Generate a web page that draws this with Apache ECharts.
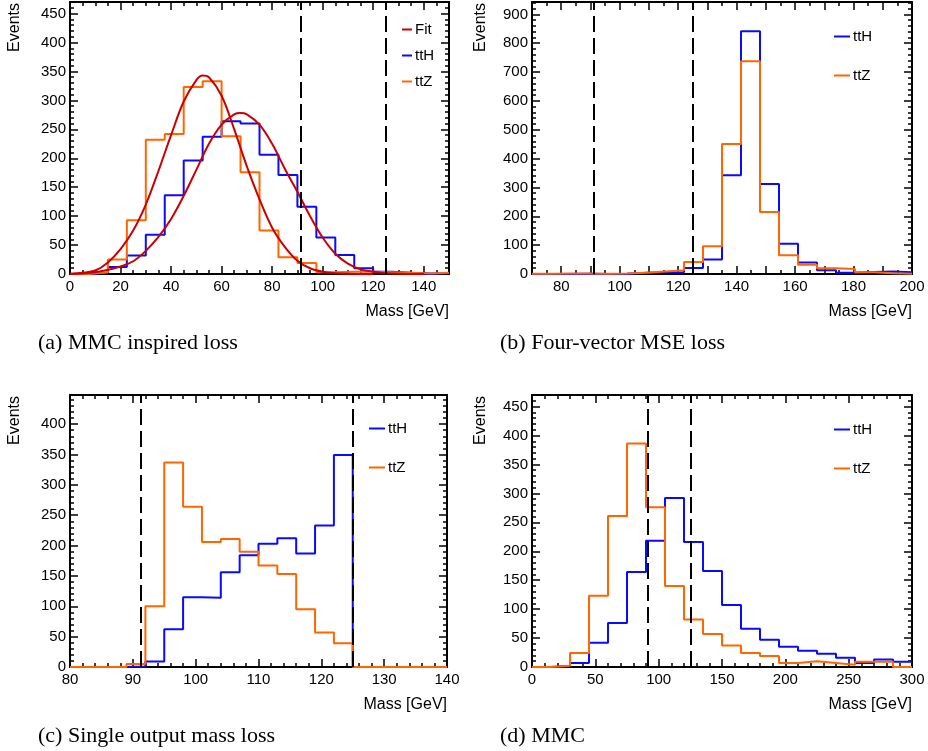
<!DOCTYPE html>
<html>
<head>
<meta charset="utf-8">
<title>Mass reconstruction</title>
<script src="https://cdn.jsdelivr.net/npm/echarts@6/dist/echarts.min.js"></script>
<style>
    html, body { margin: 0; padding: 0; background: #fff; }
    #main { width: 928px; height: 751px; }
</style>
</head>
<body>
<div id="main"></div>
<script>
// Z and H mass reference lines
var massZ = 91.2;
var massH = 125;

// (a) MMC inspired loss, 20 bins from 0 to 150
var rangeA = [0, 150];
var ttH_A = [0, 2, 12, 32, 68, 136, 196, 237, 264, 260, 206, 171, 116, 63, 33, 10, 4, 2, 1, 1];
var ttZ_A = [0, 3, 25, 93, 232, 242, 323, 333, 238, 176, 75, 29, 19, 3, 4, 4, 3, 2, 1, 2];
// fit curves
var fitZ_x = [0, 5, 10, 15, 20, 25, 30, 35, 40, 45, 50, 52.5, 55, 60, 65, 70, 75, 80, 85, 90, 95, 100, 105, 110, 120];
var fitZ_y = [0.5, 2, 6, 20, 43, 75, 120, 178, 240, 298, 335, 343, 340, 308, 250, 186, 129, 80, 47, 23, 10, 4, 1.5, 0.5, 0];
var fitH_x = [0, 10, 20, 25, 30, 35, 40, 45, 50, 55, 60, 65, 67.5, 70, 75, 80, 85, 90, 95, 100, 105, 110, 115, 120, 125, 130, 140];
var fitH_y = [0, 3, 13, 22, 40, 64, 95, 135, 180, 225, 258, 276, 278, 276, 258, 225, 182, 142, 100, 63, 35, 18, 8, 4, 1.5, 0.5, 0];

// (b) Four-vector MSE loss, 20 bins from 70 to 200
var rangeB = [70, 200];
var ttH_B = [0, 0, 1, 0, 1, 4, 5, 6, 21, 50, 342, 842, 312, 105, 40, 13, 4, 7, 9, 6];
var ttZ_B = [1, 2, 2, 1, 2, 4, 9, 13, 42, 96, 451, 738, 215, 65, 32, 20, 17, 6, 3, 1];

// (c) Single output mass loss, 20 bins from 80 to 140
var rangeC = [80, 140];
var ttH_C = [0, 0, 0, 1, 9, 62, 115, 114, 156, 184, 203, 212, 187, 233, 349, 0, 0, 0, 0, 0];
var ttZ_C = [0, 0, 0, 5, 100, 337, 264, 206, 211, 190, 167, 153, 95, 57, 39, 0, 0, 0, 0, 0];

// (d) MMC, 20 bins from 0 to 300
var rangeD = [0, 300];
var ttH_D = [0, 2, 7, 42, 76, 164, 218, 292, 216, 166, 107, 66, 47, 35, 28, 23, 16, 7, 13, 9];
var ttZ_D = [0, 2, 24, 123, 261, 386, 276, 140, 82, 57, 37, 24, 19, 7, 10, 7, 4, 9, 9, 0];

var captions = ['(a) MMC inspired loss', '(b) Four-vector MSE loss', '(c) Single output mass loss', '(d) MMC'];

var BLUE = '#0a0aff';
var ORANGE = '#ff6600';
var RED = '#cc0000';
var SANS = 'Liberation Sans, Arial, sans-serif';
var SERIF = 'Liberation Serif, Times New Roman, serif';

var grids = [
    {left: 70, top: 2, width: 379, height: 272},
    {left: 532, top: 2, width: 380, height: 272},
    {left: 70, top: 395, width: 377, height: 272},
    {left: 532, top: 395, width: 380, height: 272}
];

/**
 * 直方图的点：每个 bin 的左边界 + 最后一个右边界
 */
function histData(range, values) {
    var w = (range[1] - range[0]) / values.length;
    var pts = [];
    for (var i = 0; i < values.length; i++) {
        pts.push([range[0] + i * w, values[i]]);
    }
    pts.push([range[1], values[values.length - 1]]);
    return pts;
}

function zipXY(xs, ys) {
    var pts = [];
    for (var i = 0; i < xs.length; i++) {
        pts.push([xs[i], ys[i]]);
    }
    return pts;
}

var tickLine = {color: '#000', width: 1.5};

/**
 * 一个 frame 的四条轴 (ROOT 风格，刻度朝内)
 */
function frameAxes(g, x, y) {
    var xs = [];
    var ys = [];
    ['bottom', 'top'].forEach(function (pos) {
        xs.push({
            type: 'value', gridIndex: g, position: pos,
            min: x.min, max: x.max, interval: x.interval,
            axisLine: {show: true, onZero: false, lineStyle: {color: '#000', width: 2}},
            axisTick: {show: true, inside: true, length: 8, lineStyle: tickLine},
            minorTick: {show: true, splitNumber: x.minor, length: 4, lineStyle: tickLine},
            splitLine: {show: false},
            axisLabel: {
                show: pos === 'bottom', margin: 5, color: '#000', fontSize: 15, fontFamily: SANS,
                showMaxLabel: x.showMax,
                formatter: function (v) {
                    return (v - x.labelFrom) % x.labelStep === 0 ? String(v) : '';
                }
            }
        });
    });
    ['left', 'right'].forEach(function (pos) {
        ys.push({
            type: 'value', gridIndex: g, position: pos,
            min: y.min, max: y.max, interval: y.interval,
            axisLine: {show: true, onZero: false, lineStyle: {color: '#000', width: 2}},
            axisTick: {show: true, inside: true, length: 8, lineStyle: tickLine},
            minorTick: {show: true, splitNumber: y.minor, length: 4, lineStyle: tickLine},
            splitLine: {show: false},
            axisLabel: {
                show: pos === 'left', margin: 4, color: '#000', fontSize: 15, fontFamily: SANS,
                showMaxLabel: false
            }
        });
    });
    return {x: xs, y: ys};
}

var axesA = frameAxes(0, {min: 0, max: 150, interval: 20, minor: 4, labelFrom: 0, labelStep: 20, showMax: false},
    {min: 0, max: 470, interval: 50, minor: 5});
var axesB = frameAxes(1, {min: 70, max: 200, interval: 10, minor: 2, labelFrom: 80, labelStep: 20, showMax: true},
    {min: 0, max: 943, interval: 100, minor: 5});
var axesC = frameAxes(2, {min: 80, max: 140, interval: 10, minor: 5, labelFrom: 80, labelStep: 10, showMax: true},
    {min: 0, max: 448, interval: 50, minor: 5});
var axesD = frameAxes(3, {min: 0, max: 300, interval: 50, minor: 5, labelFrom: 0, labelStep: 50, showMax: true},
    {min: 0, max: 470, interval: 50, minor: 5});

var xAxes = [].concat(axesA.x, axesB.x, axesC.x, axesD.x);
var yAxes = [].concat(axesA.y, axesB.y, axesC.y, axesD.y);

var dashLines = {
    silent: true,
    symbol: ['none', 'none'],
    label: {show: false},
    lineStyle: {color: '#000', type: [16, 6], width: 2},
    data: [{xAxis: massZ}, {xAxis: massH}]
};

function histSeries(name, g, range, values, color, withLines) {
    var s = {
        name: name, type: 'line', step: 'end',
        xAxisIndex: g * 2, yAxisIndex: g * 2,
        data: histData(range, values),
        symbol: 'none',
        itemStyle: {color: color},
        lineStyle: {color: color, width: 2},
        animation: false
    };
    if (withLines) {
        s.markLine = dashLines;
    }
    return s;
}

function fitSeries(xs, ys) {
    return {
        name: 'Fit', type: 'line', smooth: 0.35,
        xAxisIndex: 0, yAxisIndex: 0,
        data: zipXY(xs, ys),
        symbol: 'none',
        itemStyle: {color: RED},
        lineStyle: {color: RED, width: 2},
        animation: false
    };
}

var series = [
    histSeries('ttH', 0, rangeA, ttH_A, BLUE, true),
    histSeries('ttZ', 0, rangeA, ttZ_A, ORANGE, false),
    fitSeries(fitZ_x, fitZ_y),
    fitSeries(fitH_x, fitH_y),
    histSeries('ttH', 1, rangeB, ttH_B, BLUE, true),
    histSeries('ttZ', 1, rangeB, ttZ_B, ORANGE, false),
    histSeries('ttH', 2, rangeC, ttH_C, BLUE, true),
    histSeries('ttZ', 2, rangeC, ttZ_C, ORANGE, false),
    histSeries('ttH', 3, rangeD, ttH_D, BLUE, true),
    histSeries('ttZ', 3, rangeD, ttZ_D, ORANGE, false)
];

function legendAt(left, top, names, gap, w) {
    return {
        left: left, top: top, orient: 'vertical',
        data: names, icon: 'rect', itemWidth: w, itemHeight: 2,
        itemGap: gap, selectedMode: false,
        textStyle: {color: '#000', fontSize: 15, fontFamily: SANS, padding: [0, 0, 0, -2]}
    };
}

var legends = [
    legendAt(397, 17, ['Fit', 'ttH', 'ttZ'], 11, 10),
    legendAt(829, 24, ['ttH', 'ttZ'], 24, 16),
    legendAt(364, 416, ['ttH', 'ttZ'], 24, 16),
    legendAt(829, 417, ['ttH', 'ttZ'], 24, 16)
];

// 轴标题和子图标题
var graphics = [];
grids.forEach(function (g, i) {
    graphics.push({
        type: 'text', x: i % 2 === 0 ? g.left - 55 : g.left - 51, y: g.top + 1, rotation: Math.PI / 2,
        style: {text: 'Events', fontSize: 16, fontFamily: SANS, fill: '#000', align: 'right', verticalAlign: 'middle'}
    });
    graphics.push({
        type: 'text', x: g.left + g.width, y: g.top + g.height + 38,
        style: {text: 'Mass [GeV]', fontSize: 16, fontFamily: SANS, fill: '#000', align: 'right', verticalAlign: 'middle'}
    });
    graphics.push({
        type: 'text', x: i % 2 === 0 ? 38 : 500, y: g.top + g.height + 69,
        style: {text: captions[i], fontSize: 22, fontFamily: SERIF, fill: '#000', align: 'left', verticalAlign: 'middle'}
    });
});

var option = {
    backgroundColor: '#fff',
    animation: false,
    grid: grids,
    xAxis: xAxes,
    yAxis: yAxes,
    legend: legends,
    series: series,
    graphic: graphics
};

var myChart = echarts.init(document.getElementById('main'), null, {renderer: 'canvas'});
myChart.setOption(option);
</script>
</body>
</html>
